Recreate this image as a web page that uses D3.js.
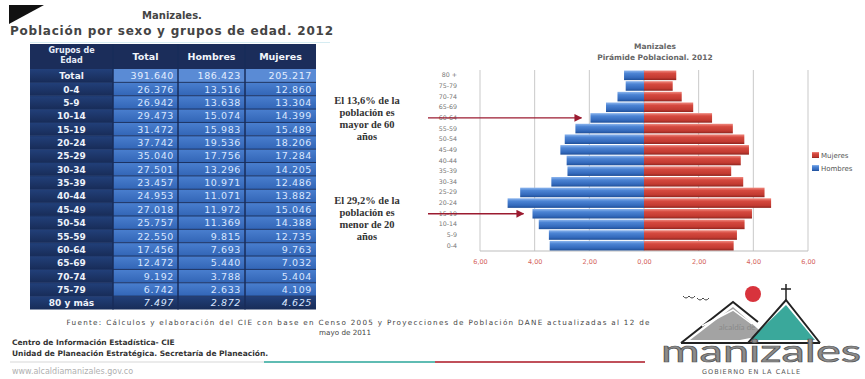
<!DOCTYPE html>
<html><head><meta charset="utf-8">
<script src="https://cdn.jsdelivr.net/npm/d3@7"></script>
<style>body{margin:0;background:#fff}svg{display:block}</style>
</head><body><svg id="c" width="865" height="379"></svg>
<script>
// ---------- DATA ----------
const tableGroups = ["0-4","5-9","10-14","15-19","20-24","25-29","30-34","35-39","40-44","45-49","50-54","55-59","60-64","65-69","70-74","75-79","80 y más"];
const tableTotal = [26376,26942,29473,31472,37742,35040,27501,23457,24953,27018,25757,22550,17456,12472,9192,6742,7497];
const tableHombres = [13516,13638,15074,15983,19536,17756,13296,10971,11071,11972,11369,9815,7693,5440,3788,2633,2872];
const tableMujeres = [12860,13304,14399,15489,18206,17284,14205,12486,13882,15046,14388,12735,9763,7032,5404,4109,4625];
const grandTotal = [391640,186423,205217];
const tableHeaders = ["Total","Hombres","Mujeres"];

const pyramidGroups = ["0-4","5-9","10-14","15-19","20-24","25-29","30-34","35-39","40-44","45-49","50-54","55-59","60-64","65-69","70-74","75-79","80 +"];
const pctHombres = [3.45,3.48,3.85,4.08,4.99,4.53,3.39,2.80,2.83,3.06,2.90,2.51,1.96,1.39,0.97,0.67,0.73];
const pctMujeres = [3.28,3.40,3.68,3.95,4.65,4.41,3.63,3.19,3.54,3.84,3.67,3.25,2.49,1.80,1.38,1.05,1.18];
const xTicks = [-6,-4,-2,0,2,4,6];
const seriesNames = ["Mujeres","Hombres"];

const note1 = ["El 13,6% de la","población es","mayor de 60","años"];
const note2 = ["El 29,2% de la","población es","menor de 20","años"];

// ---------- SETUP ----------
const svg = d3.select("#c");
const defs = svg.append("defs");
function grad(id, stops){
  const g = defs.append("linearGradient").attr("id",id).attr("x1",0).attr("y1",0).attr("x2",0).attr("y2",1);
  stops.forEach(s=>g.append("stop").attr("offset",s[0]).attr("stop-color",s[1]));
}
grad("blueG",[[0,"#8db6ee"],[0.3,"#4c84d4"],[0.75,"#3369bb"],[1,"#1f4f98"]]);
grad("redG",[[0,"#f08a80"],[0.3,"#d5493f"],[0.75,"#c23a31"],[1,"#8e241e"]]);
grad("cellG",[[0,"#4a7fcf"],[1,"#3265b6"]]);
grad("navyG",[[0,"#22407a"],[1,"#182c58"]]);
defs.append("marker").attr("id","arr").attr("viewBox","0 0 10 10").attr("refX",9).attr("refY",5)
  .attr("markerWidth",6).attr("markerHeight",6).attr("orient","auto")
  .append("path").attr("d","M0,0 L10,5 L0,10 z").attr("fill","#9b1b30");

const loc = d3.formatLocale({decimal:",", thousands:".", grouping:[3], currency:["$",""]});
const fmtN = loc.format(",d");
const fmt2 = loc.format(".2f");

// ---------- TOP-LEFT ----------
svg.append("path").attr("d","M9,5 L44,5 L9,24 Z").attr("fill","#111");
svg.append("text").attr("x",172).attr("y",19).attr("text-anchor","middle")
  .attr("font-family","DejaVu Sans").attr("font-weight","bold").attr("font-size",10).attr("fill","#444").text("Manizales.");
svg.append("text").attr("x",10).attr("y",35)
  .attr("font-family","DejaVu Sans").attr("font-weight","bold").attr("font-size",12).attr("fill","#444")
  .attr("textLength",323).text("Población por sexo y grupos de edad. 2012");
svg.append("line").attr("x1",30).attr("x2",330).attr("y1",42.5).attr("y2",42.5).attr("stroke","#d6ecf2").attr("stroke-width",1);

// ---------- TABLE ----------
const colX = [30,113,178,245,316];
const rowNames = ["Total", ...tableGroups];
const rowVals = [grandTotal, ...tableGroups.map((g,i)=>[tableTotal[i],tableHombres[i],tableMujeres[i]])];
const rowsY = d3.scaleBand().domain(rowNames).range([69,309.5]);
const rh = rowsY.bandwidth();
const T = svg.append("g").attr("font-family","DejaVu Sans");

T.append("rect").attr("x",colX[0]).attr("y",44).attr("width",colX[4]-colX[0]).attr("height",25).attr("fill","#1b2d5a");
T.append("text").attr("x",71.5).attr("y",53).attr("text-anchor","middle").attr("font-size",8).attr("font-weight","bold").attr("fill","#e6ecf8").text("Grupos de");
T.append("text").attr("x",71.5).attr("y",63).attr("text-anchor","middle").attr("font-size",8).attr("font-weight","bold").attr("fill","#e6ecf8").text("Edad");
tableHeaders.forEach((h,j)=>{
  T.append("text").attr("x",(colX[j+1]+colX[j+2])/2).attr("y",60).attr("text-anchor","middle")
    .attr("font-size",9.5).attr("font-weight","bold").attr("fill","#f2f5fb").text(h);
});

rowNames.forEach((g,i)=>{
  const y = rowsY(g);
  const last = i === rowNames.length-1;
  T.append("rect").attr("x",colX[0]).attr("y",y).attr("width",colX[1]-colX[0]).attr("height",rh).attr("fill","url(#navyG)");
  T.append("rect").attr("x",colX[1]).attr("y",y).attr("width",colX[4]-colX[1]).attr("height",rh)
    .attr("fill", i===0 ? "#5a8bd5" : (last ? "url(#navyG)" : "url(#cellG)"));
  T.append("text").attr("x",71.5).attr("y",y+rh/2+3.5).attr("text-anchor","middle")
    .attr("font-size",9).attr("font-weight","bold").attr("fill","#eef2fa").text(g);
  rowVals[i].forEach((v,j)=>{
    T.append("text").attr("x",colX[j+2]-4).attr("y",y+rh/2+3.5).attr("text-anchor","end")
      .attr("font-size",9.5).attr("letter-spacing",0.6).attr("font-style", last ? "italic":"normal")
      .attr("fill", i===0 ? "#e4eeff" : "#d8e6ff").text(fmtN(v));
  });
  if(i>0){
    T.append("line").attr("x1",colX[0]).attr("x2",colX[4]).attr("y1",y).attr("y2",y).attr("stroke","#1a3161").attr("stroke-width",1);
  }
});
[1,2,3].forEach(k=>{
  T.append("line").attr("x1",colX[k]).attr("x2",colX[k]).attr("y1",44).attr("y2",309.5).attr("stroke","#192d5a").attr("stroke-width",1.5);
});

// ---------- PYRAMID ----------
const x = d3.scaleLinear().domain([-6,6]).range([480,808]);
const y = d3.scaleBand().domain(pyramidGroups.slice().reverse()).range([70,251]).paddingInner(0.1).paddingOuter(0.05);
const P = svg.append("g");
P.selectAll("line.grid").data(xTicks).join("line").attr("class","grid")
  .attr("x1",d=>x(d)).attr("x2",d=>x(d)).attr("y1",70).attr("y2",251).attr("stroke","#c9c9c9").attr("stroke-width",1);
P.append("line").attr("x1",x(-6)).attr("x2",x(6)).attr("y1",251).attr("y2",251).attr("stroke","#bdbdbd");

P.selectAll("rect.h").data(pyramidGroups).join("rect").attr("class","h")
  .attr("x",(d,i)=>x(-pctHombres[i])).attr("y",d=>y(d)).attr("width",(d,i)=>x(0)-x(-pctHombres[i])).attr("height",y.bandwidth())
  .attr("fill","url(#blueG)");
P.selectAll("rect.m").data(pyramidGroups).join("rect").attr("class","m")
  .attr("x",x(0)).attr("y",d=>y(d)).attr("width",(d,i)=>x(pctMujeres[i])-x(0)).attr("height",y.bandwidth())
  .attr("fill","url(#redG)");

const xa = P.append("g").attr("transform","translate(0,251)")
  .call(d3.axisBottom(x).tickValues(xTicks).tickFormat(d=>fmt2(Math.abs(d))).tickSize(0).tickPadding(8));
xa.select(".domain").remove();
xa.selectAll("text").attr("font-family","DejaVu Sans").attr("font-size",6.5).attr("fill","#d4645c");

const ya = P.append("g").attr("transform","translate(479,0)")
  .call(d3.axisLeft(y).tickSize(0).tickPadding(22));
ya.select(".domain").remove();
ya.selectAll("text").attr("font-family","DejaVu Sans").attr("font-size",6.3).attr("fill","#777");

svg.append("text").attr("x",655).attr("y",49).attr("text-anchor","middle").attr("font-family","DejaVu Sans")
  .attr("font-size",7.5).attr("font-weight","bold").attr("fill","#666").text("Manizales");
svg.append("text").attr("x",655).attr("y",60).attr("text-anchor","middle").attr("font-family","DejaVu Sans")
  .attr("font-size",7.5).attr("font-weight","bold").attr("fill","#666").text("Pirámide Poblacional. 2012");

// legend
const L = svg.append("g");
seriesNames.forEach((s,i)=>{
  L.append("rect").attr("x",812).attr("y",152+i*13).attr("width",7).attr("height",6).attr("fill", i===0 ? "url(#redG)" : "url(#blueG)");
  L.append("text").attr("x",821).attr("y",158+i*13).attr("font-family","DejaVu Sans").attr("font-size",7).attr("fill","#555").text(s);
});

// annotations
const A = svg.append("g").attr("font-family","Liberation Serif").attr("font-size",10.5).attr("fill","#333").attr("font-weight","bold");
note1.forEach((t,i)=>A.append("text").attr("x",367).attr("y",104+i*12).attr("text-anchor","middle").text(t));
note2.forEach((t,i)=>A.append("text").attr("x",367).attr("y",204+i*12).attr("text-anchor","middle").text(t));
[[12,"60-64"],[3,"15-19"]].forEach(([i,g])=>{
  const yy = y(g)+y.bandwidth()/2;
  svg.append("line").attr("x1",428).attr("x2",x(-pctHombres[i])-9).attr("y1",yy).attr("y2",yy)
    .attr("stroke","#9b1b30").attr("stroke-width",1.3).attr("marker-end","url(#arr)");
});

// ---------- FOOTER ----------
const F = svg.append("g").attr("font-family","DejaVu Sans");
F.append("text").attr("x",358).attr("y",325).attr("text-anchor","middle").attr("font-size",7.2).attr("fill","#444")
  .attr("textLength",583).text("Fuente: Cálculos y elaboración del CIE con base en Censo 2005 y Proyecciones de Población DANE actualizadas al 12 de");
F.append("text").attr("x",345).attr("y",335).attr("text-anchor","middle").attr("font-size",7.2).attr("fill","#444").text("mayo de 2011");
F.append("text").attr("x",12).attr("y",345).attr("font-size",7.5).attr("font-weight","bold").attr("fill","#333").text("Centro de Información Estadística- CIE");
F.append("text").attr("x",12).attr("y",356).attr("font-size",7.5).attr("font-weight","bold").attr("fill","#333").text("Unidad de Planeación Estratégica. Secretaría de Planeación.");
F.append("text").attr("x",12).attr("y",374).attr("font-size",8).attr("fill","#b0b0b0").text("www.alcaldiamanizales.gov.co");
F.append("line").attr("x1",10).attr("x2",264).attr("y1",362).attr("y2",362).attr("stroke","#e4e4e4").attr("stroke-width",1.5);
F.append("line").attr("x1",264).attr("x2",435).attr("y1",362).attr("y2",362).attr("stroke","#5fbcb3").attr("stroke-width",2);
F.append("line").attr("x1",435).attr("x2",645).attr("y1",362).attr("y2",362).attr("stroke","#c0505a").attr("stroke-width",2);

// ---------- LOGO ----------
const G = svg.append("g");
G.append("path").attr("d","M683,296 q3,4 6,0 q3,4 6,0 M697,298 q3,4 6,0 q3,4 6,0").attr("fill","none").attr("stroke","#444").attr("stroke-width",1);
G.append("path").attr("d","M690,340 L733,307 L765,335 L740,340 Z").attr("fill","#a3a3a3");
G.append("path").attr("d","M750,340 L786,305 L815,340 Z").attr("fill","#3aa89b");
G.append("path").attr("d","M681,343 L733,302 L758,322 M748,343 L786,300 L820,343 M681,343 L820,343").attr("fill","none").attr("stroke","#222").attr("stroke-width",2);
G.append("path").attr("d","M702,326 L733,310 L752,324").attr("fill","none").attr("stroke","#fff").attr("stroke-width",1.5);
G.append("circle").attr("cx",753).attr("cy",294).attr("r",8).attr("fill","#d8333c");
G.append("path").attr("d","M786,284 L786,301 M781,289 L791,289").attr("stroke","#222").attr("stroke-width",1.5);
G.append("text").attr("x",737).attr("y",330).attr("text-anchor","middle").attr("font-family","Lato").attr("font-size",8).attr("fill","#8a8a8a").text("alcaldía de");
G.append("text").attr("x",661).attr("y",362).attr("font-family","Lato").attr("font-size",30).attr("fill","#8c8c8c").attr("stroke","#555").attr("stroke-width",0.7)
  .attr("textLength",200).attr("lengthAdjust","spacingAndGlyphs").text("manizales");
G.append("text").attr("x",751).attr("y",374).attr("text-anchor","middle").attr("font-family","DejaVu Sans").attr("font-size",6.5).attr("fill","#555")
  .attr("textLength",98).text("GOBIERNO EN LA CALLE");
</script></body></html>
